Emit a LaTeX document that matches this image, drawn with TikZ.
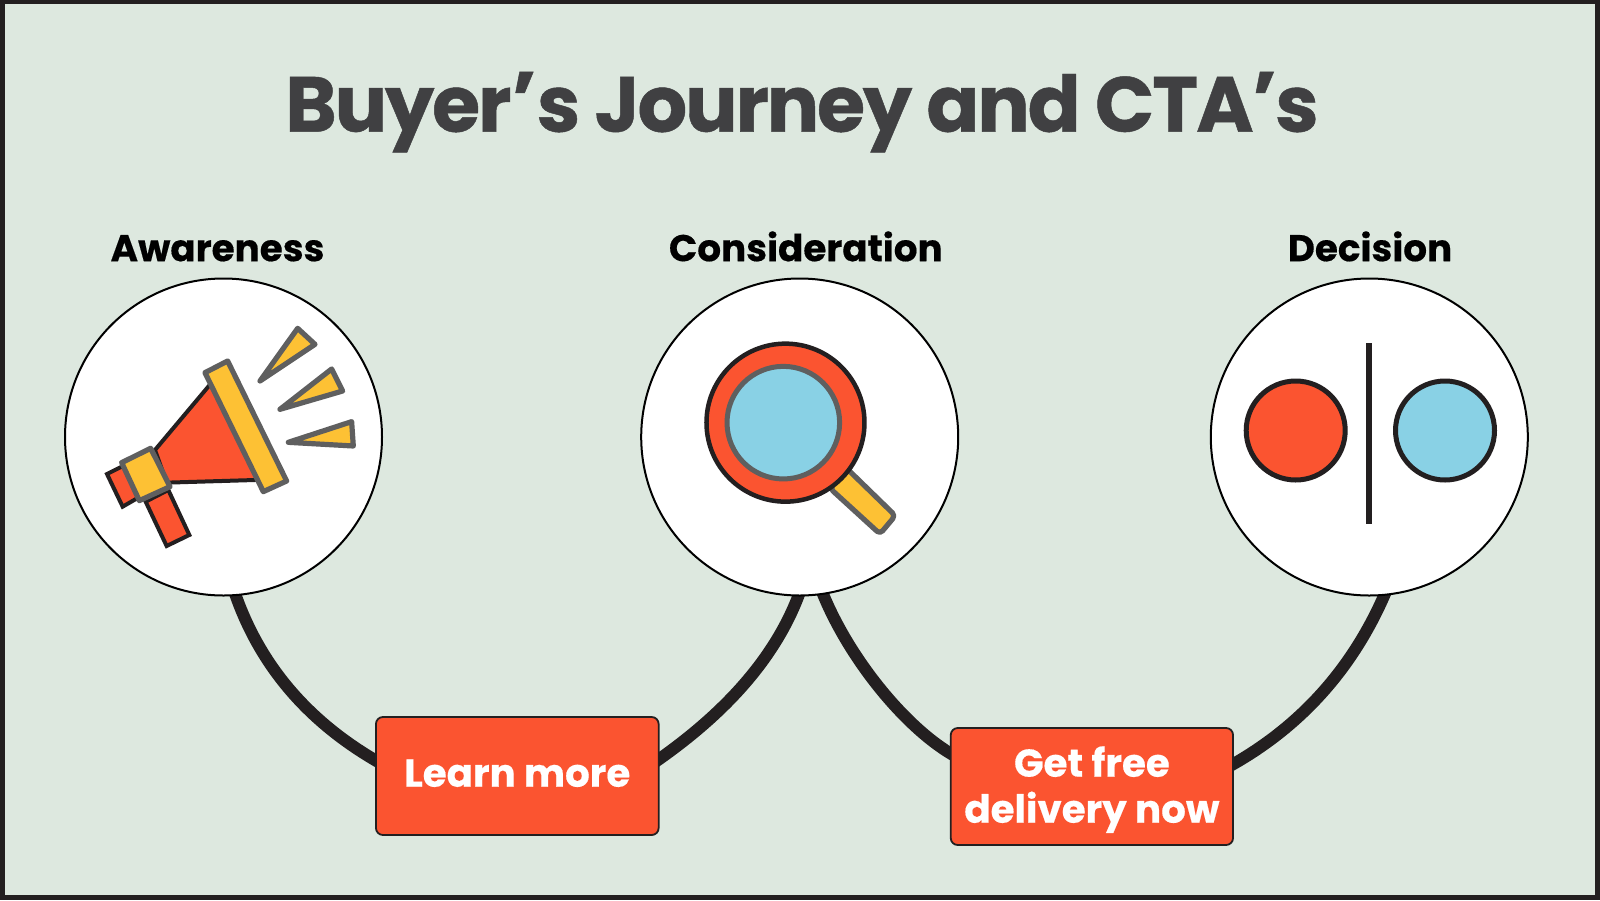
\documentclass[tikz,border=0pt]{standalone}
\usepackage{fontspec}
\setmainfont{Poppins}
\newfontfamily\titlefam[BoldFeatures={FakeBold=0.6,LetterSpace=-2.8}]{Poppins}
\newfontfamily\headfam[BoldFeatures={FakeBold=0.4}]{Poppins}
\newcommand{\apos}{\kern0.5pt\raisebox{5pt}{’}\kern0.5pt}
\newcommand{\aposb}{\kern-1.5pt\raisebox{5pt}{’}\kern-1.5pt}
\definecolor{bgc}{HTML}{DDE8DF}
\definecolor{redc}{HTML}{FB5430}
\definecolor{yelc}{HTML}{FDC134}
\definecolor{bluc}{HTML}{89D1E5}
\definecolor{gryc}{HTML}{5F5F5F}
\definecolor{drkc}{HTML}{231F20}
\definecolor{ttlc}{HTML}{404042}
\pgfdeclarelayer{back}
\pgfsetlayers{back,main}
\tikzset{
  stage/.style={circle,draw=black,fill=white,line width=2pt,minimum size=317pt,inner sep=0pt,outer sep=0pt},
  head/.style={anchor=base,font=\headfam\bfseries\fontsize{37.3}{40}\selectfont,text=black,inner sep=0pt},
  cta/.style={rectangle,rounded corners=7pt,draw=drkc,fill=redc,line width=1.8pt,inner sep=0pt,outer sep=0pt,
    text=white,font=\headfam\bfseries\fontsize{38.8}{46}\selectfont},
  link/.style={draw=drkc,line width=12pt},
  grayshape/.style={draw=gryc,fill=yelc,line width=5.2pt,line join=round},
  darkshape/.style={draw=drkc,fill=redc,line width=4pt,line join=miter},
}
\begin{document}
\begin{tikzpicture}[x=1pt,y=-1pt]
\useasboundingbox (0,0) rectangle (1600,900);
\begin{pgfonlayer}{back}
\fill[drkc] (0,0) rectangle (1600,900);
\fill[bgc] (5,4) rectangle (1595,895);
\end{pgfonlayer}

\node[anchor=base,inner sep=0pt,text=ttlc,font=\titlefam\bfseries\fontsize{78}{80}\selectfont] (title) at (802,131.7) {Buyer\apos s Journey and CTA\aposb s};
\node[head] (h1) at (217.5,261.2) {Awareness};
\node[head] (h2) at (805.8,261.2) {Consideration};
\node[head] (h3) at (1370,261.2) {Decision};

\node[stage] (c1) at (223.5,437) {};
\node[stage] (c2) at (799.7,437) {};
\node[stage] (c3) at (1369.3,437) {};

\node[cta,minimum width=282.7pt,minimum height=118pt] (b1) at (517.3,776) {\raisebox{-10.7pt}[0pt][0pt]{Learn more}};
\node[cta,minimum width=282.3pt,minimum height=117pt] (b2) at (1091.9,786.5) {\raisebox{-36.2pt}[0pt][0pt]{\begin{tabular}[b]{@{}c@{}}Get free\\delivery now\end{tabular}}};

\begin{pgfonlayer}{back}
\draw[link] ([yshift=3pt]c1.-86.5) .. controls +(24,70) and +(-76,-43) .. ([xshift=5pt,yshift=12.5pt]b1.west);
\draw[link] ([yshift=3pt]c2.-90) .. controls +(-25,68) and +(68,-47) .. ([xshift=-5pt,yshift=13pt]b1.east);
\draw[link] ([yshift=3pt]c2.-82.6) .. controls +(27,68) and +(-49,-27) .. ([xshift=5pt,yshift=30pt]b2.west);
\draw[link] ([yshift=3pt]c3.-84.4) .. controls +(-29,68) and +(80,-44) .. ([xshift=-5pt,yshift=19.5pt]b2.east);
\end{pgfonlayer}

% megaphone
\begin{scope}[shift={(60,280)},x=0.3333pt,y=-0.3333pt]
\draw[darkshape] (465,296) -- (620,599) -- (320,608) -- (285,510) -- cycle;
\draw[darkshape] (141,582) -- (188,680) -- (240,650) -- (195,555) -- cycle;
\draw[darkshape] (257,665) -- (320,798) -- (388,765) -- (325,630) -- cycle;
\draw[grayshape] (185,548) -- (272,505) -- (330,620) -- (238,662) -- cycle;
\draw[grayshape] (435,278) -- (503,243) -- (680,603) -- (610,635) -- cycle;
\draw[grayshape] (713,145) -- (765,193) -- (600,303) -- cycle;
\draw[grayshape] (815,267) -- (848,333) -- (660,388) -- cycle;
\draw[grayshape] (875,425) -- (880,498) -- (685,487) -- cycle;
\end{scope}

% magnifier
\begin{scope}[shift={(640,280)},x=0.3333pt,y=-0.3333pt]
\draw[grayshape,rounded corners=4pt] (620,565) -- (766,707) -- (720,762) -- (570,625) -- cycle;
\filldraw[draw=drkc,fill=redc,line width=4.5pt] (436.5,428) circle[radius=79pt];
\filldraw[draw=gryc,fill=bluc,line width=5pt] (430,428) circle[radius=56.3pt];
\end{scope}

% decision
\filldraw[draw=drkc,fill=redc,line width=5pt] (1295.7,430.5) circle[radius=49.5pt];
\filldraw[draw=drkc,fill=bluc,line width=5pt] (1445,430.5) circle[radius=49.5pt];
\draw[drkc,line width=6pt] (1369,343.3) -- (1369,524);
\end{tikzpicture}
\end{document}
